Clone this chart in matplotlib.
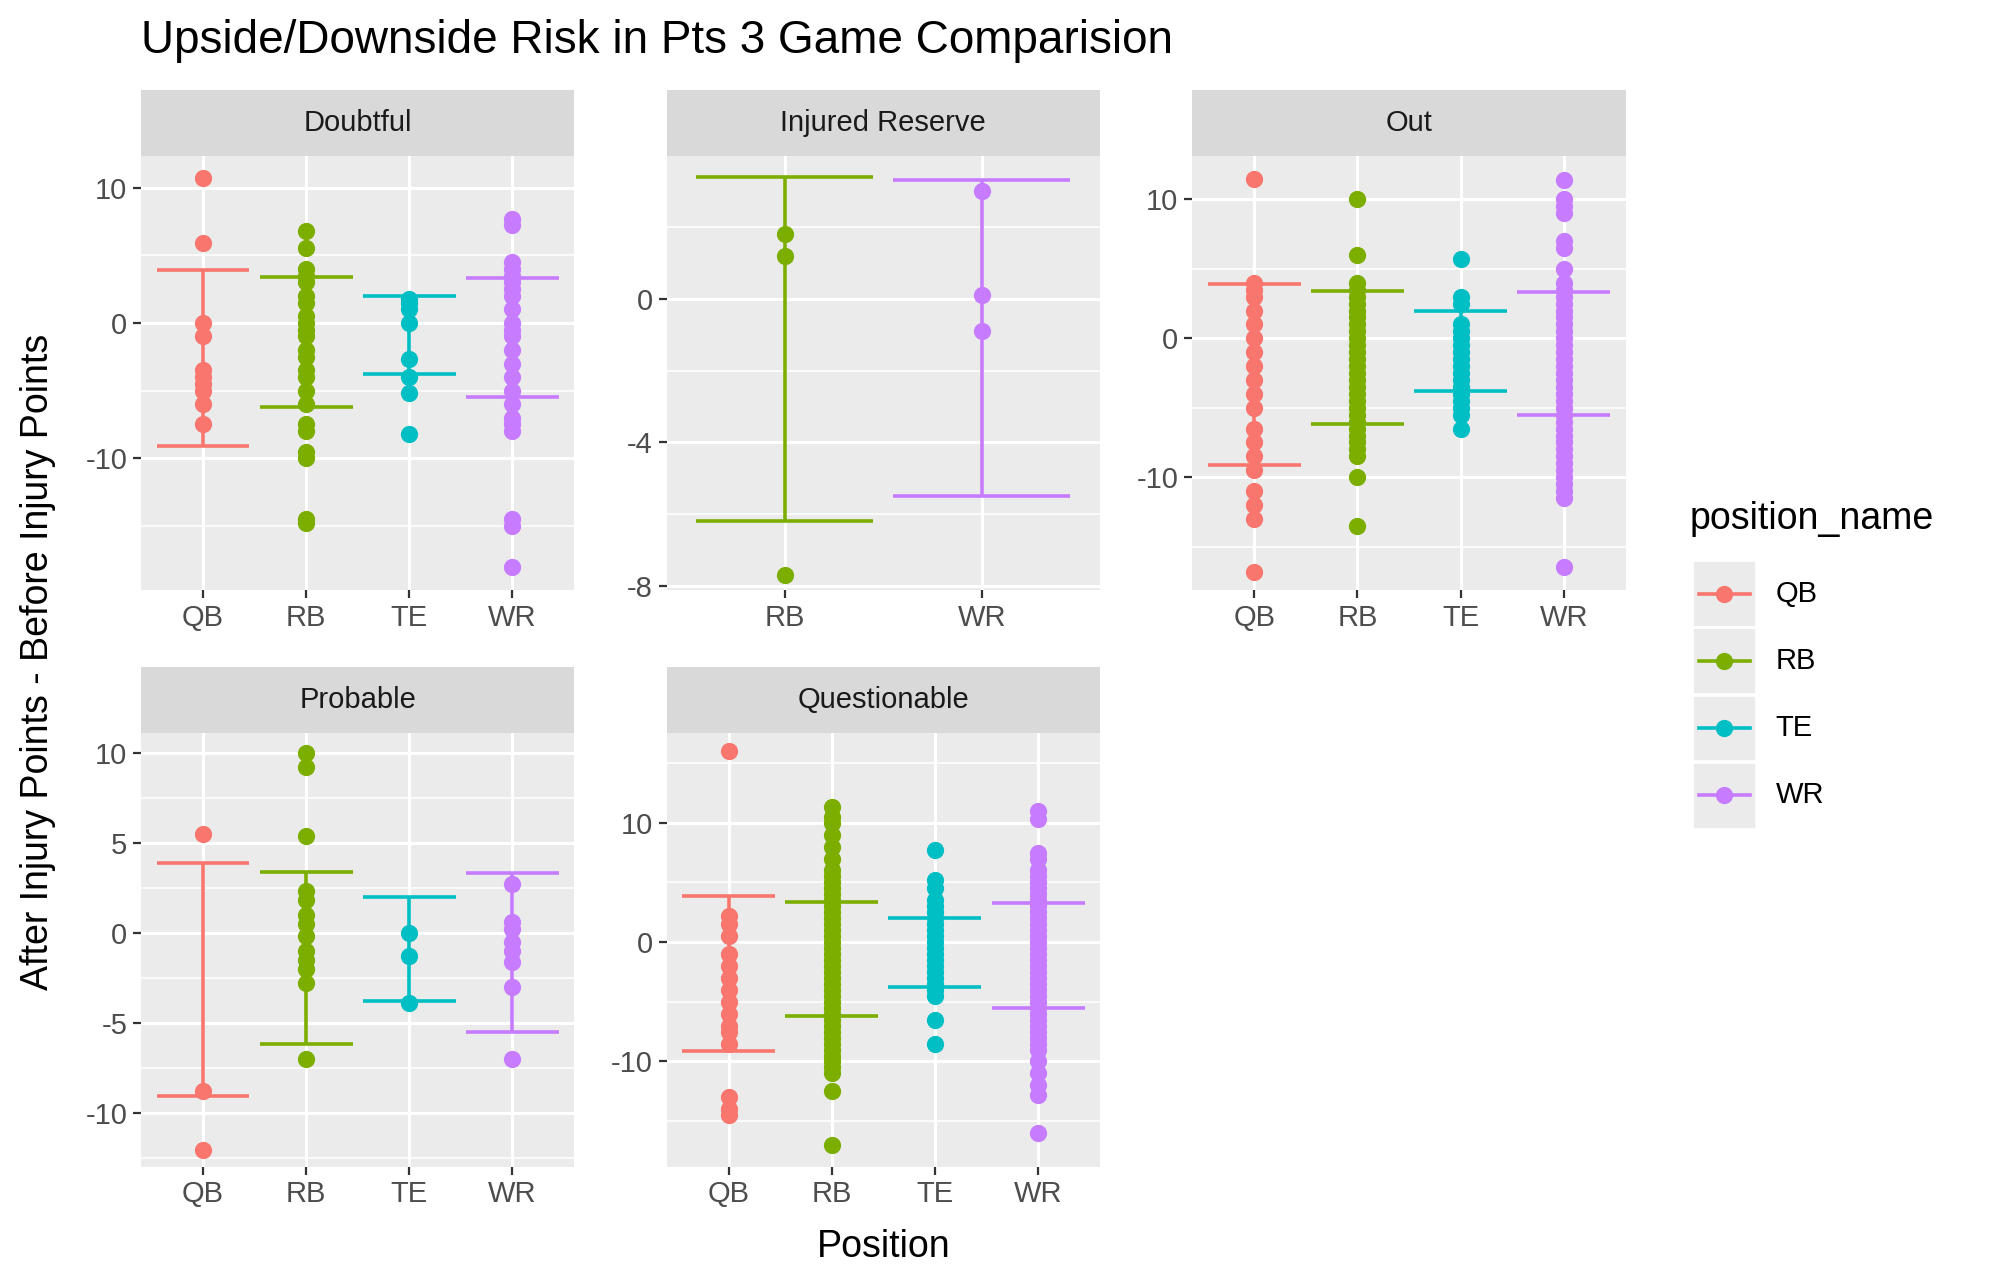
import matplotlib
matplotlib.use("Agg")
import matplotlib.pyplot as plt
from matplotlib.ticker import AutoMinorLocator
from matplotlib.lines import Line2D
from matplotlib.patches import Rectangle

plt.rcParams['font.family'] = ['Liberation Sans', 'DejaVu Sans']

colors = {"QB": "#F8766D", "RB": "#7CAE00", "TE": "#00BFC4", "WR": "#C77CFF"}
positions = ["QB", "RB", "TE", "WR"]
upper = {"QB": 3.9, "RB": 3.4, "TE": 2.0, "WR": 3.3}
lower = {"QB": -9.1, "RB": -6.2, "TE": -3.8, "WR": -5.5}

doubtful = {
    "QB": [10.7, 5.9, 0, -1, -3.5, -4, -4.5, -5, -6, -7.5],
    "RB": [6.8, 5.5, 4, 3.5, 3, 2, 1.5, 0.5, 0, -0.5, -1, -2, -2.5, -3.5, -4, -5,
           -6, -7.5, -8, -9.5, -10, -14.5, -14.8],
    "TE": [1.8, 1.5, 1, 0, -2.7, -4, -5.2, -8.2],
    "WR": [7.7, 7.2, 4.5, 4, 3.5, 3, 2.5, 2, 1, 0, -0.5, -1, -2, -3, -4, -5, -6,
           -7, -7.5, -8, -14.5, -15, -18],
}
injured = {
    "RB": [1.8, 1.2, -7.7],
    "WR": [3.0, 0.1, -0.9],
}
out = {
    "QB": [11.5, 4, 3.5, 3, 2, 1, 0, -1, -2, -3, -4, -5, -6.5, -7.5, -8.5, -9.5,
           -11, -12, -13, -16.8],
    "RB": [10, 6, 4, 3.5, 3, 2.5, 2, 1.5, 1, 0.5, 0, -0.5, -1, -1.5, -2, -2.5, -3,
           -3.5, -4, -4.5, -5, -5.5, -6, -6.5, -7, -7.5, -8, -8.5, -10, -13.5],
    "TE": [5.7, 3, 2.5, 1, 0.5, 0, -0.5, -1, -1.5, -2, -2.5, -3, -3.5, -4, -4.5,
           -5, -5.5, -6.5],
    "WR": [11.4, 10, 9.5, 9, 7, 6.5, 5, 4, 3.5, 3, 2.5, 2, 1.5, 1, 0.5, 0, -0.5,
           -1, -1.5, -2, -2.5, -3, -3.5, -4, -4.5, -5, -5.5, -6, -6.5, -7, -7.5,
           -8, -8.5, -9, -9.5, -10, -10.5, -11, -11.5, -16.5],
}
probable = {
    "QB": [5.5, -8.8, -12.1],
    "RB": [10, 9.2, 5.4, 2.3, 1.8, 1, 0.5, -0.2, -1, -1.5, -2, -2.8, -7],
    "TE": [0, -1.3, -3.9],
    "WR": [2.7, 0.6, 0.2, -0.5, -1, -1.6, -3, -7],
}
questionable = {
    "QB": [16, 2.2, 1.5, 0.5, -1, -2, -3, -4, -5, -6, -7, -7.5, -8.5, -13, -14, -14.5],
    "RB": [11.3, 10.5, 10, 9, 8, 7, 6, 5.5, 5, 4.5, 4, 3.5, 3, 2.5, 2, 1.5, 1, 0.5,
           0, -0.5, -1, -1.5, -2, -2.5, -3, -3.5, -4, -4.5, -5, -5.5, -6, -6.5, -7,
           -7.5, -8, -8.5, -9, -9.5, -10, -10.5, -11, -12.5, -17],
    "TE": [7.7, 5.2, 4.5, 3.5, 3, 2.5, 2, 1.5, 1, 0.5, 0, -0.5, -1, -1.5, -2, -2.5,
           -3, -3.5, -4, -4.5, -6.5, -8.5],
    "WR": [11, 10.3, 7.5, 7, 6, 5.5, 5, 4.5, 4, 3.5, 3, 2.5, 2, 1.5, 1, 0.5, 0, -0.5,
           -1, -1.5, -2, -2.5, -3, -3.5, -4, -4.5, -5, -5.5, -6, -6.5, -7, -7.5, -8,
           -8.5, -9, -10, -11, -12, -12.8, -16],
}

panels = [
    ("Doubtful", doubtful, (-19.7, 12.3), [-10, 0, 10], 0, 0),
    ("Injured Reserve", injured, (-8.1, 3.96), [-8, -4, 0], 0, 1),
    ("Out", out, (-18.1, 13.1), [-10, 0, 10], 0, 2),
    ("Probable", probable, (-13.0, 11.1), [-10, -5, 0, 5, 10], 1, 0),
    ("Questionable", questionable, (-18.8, 17.5), [-10, 0, 10], 1, 1),
]

W, H = 1560.0, 1004.0
fig = plt.figure(figsize=(10, 6.435), dpi=200)
col_x = [110, 520, 930]
row_top = [122, 572]
pw, ph, sh = 338, 338, 52

for name, data, ylim, yticks, r, c in panels:
    left = col_x[c] / W
    bottom = 1 - (row_top[r] + ph) / H
    ax = fig.add_axes([left, bottom, pw / W, ph / H])
    ax.set_facecolor("#EBEBEB")
    cats = list(data.keys())
    xs = range(1, len(cats) + 1)
    for x, cat in zip(xs, cats):
        col = colors[cat]
        ax.vlines(x, lower[cat], upper[cat], color=col, lw=1.3, zorder=3)
        ax.hlines([lower[cat], upper[cat]], x - 0.45, x + 0.45, color=col, lw=1.3, zorder=3)
        ax.plot([x] * len(data[cat]), data[cat], 'o', color=col, ms=5.2, zorder=4)
    ax.set_xlim(0.4, len(cats) + 0.6)
    ax.set_ylim(*ylim)
    ax.set_xticks(list(xs))
    ax.set_xticklabels(cats)
    ax.set_yticks(yticks)
    ax.set_yticklabels([str(t) for t in yticks])
    ax.yaxis.set_minor_locator(AutoMinorLocator(2))
    ax.grid(True, which="major", color="white", lw=1.1)
    ax.grid(True, which="minor", axis="y", color="white", lw=0.55)
    ax.set_axisbelow(True)
    for s in ax.spines.values():
        s.set_visible(False)
    ax.tick_params(which="major", length=3, color="#333333", labelsize=10.5,
                   labelcolor="#4D4D4D", pad=2)
    ax.tick_params(which="minor", length=0)
    sax = fig.add_axes([left, 1 - row_top[r] / H, pw / W, sh / H])
    sax.set_facecolor("#D9D9D9")
    sax.set_xticks([]); sax.set_yticks([])
    for s in sax.spines.values():
        s.set_visible(False)
    sax.text(0.5, 0.5, name, ha="center", va="center", fontsize=10.5, color="#1A1A1A",
             transform=sax.transAxes)

fig.text(110 / W, 1 - 32 / H, "Upside/Downside Risk in Pts 3 Game Comparision",
         fontsize=16.5, va="center", ha="left")
fig.text(689 / W, 1 - 973 / H, "Position", fontsize=13.5, ha="center", va="center")
fig.text(30 / W, 1 - 516 / H, "After Injury Points - Before Injury Points", fontsize=13.5,
         rotation=90, ha="center", va="center")

# legend
fig.text(1318 / W, 1 - 405 / H, "position_name", fontsize=13.5, va="center")
for i, cat in enumerate(positions):
    yc = 463 + i * 52.5
    fig.patches.append(Rectangle((1320 / W, 1 - (yc + 26) / H), 50 / W, 52 / H,
                                 transform=fig.transFigure, facecolor="#EBEBEB",
                                 edgecolor="white", lw=1))
    fig.lines.append(Line2D([1325 / W, 1365 / W], [1 - yc / H] * 2, color=colors[cat],
                            lw=1.3, transform=fig.transFigure))
    fig.lines.append(Line2D([1345 / W], [1 - yc / H], marker='o', ms=5.2,
                            color=colors[cat], transform=fig.transFigure))
    fig.text(1385 / W, 1 - yc / H, cat, fontsize=10.5, va="center")

fig.savefig("out.png", dpi=200, facecolor="white")
